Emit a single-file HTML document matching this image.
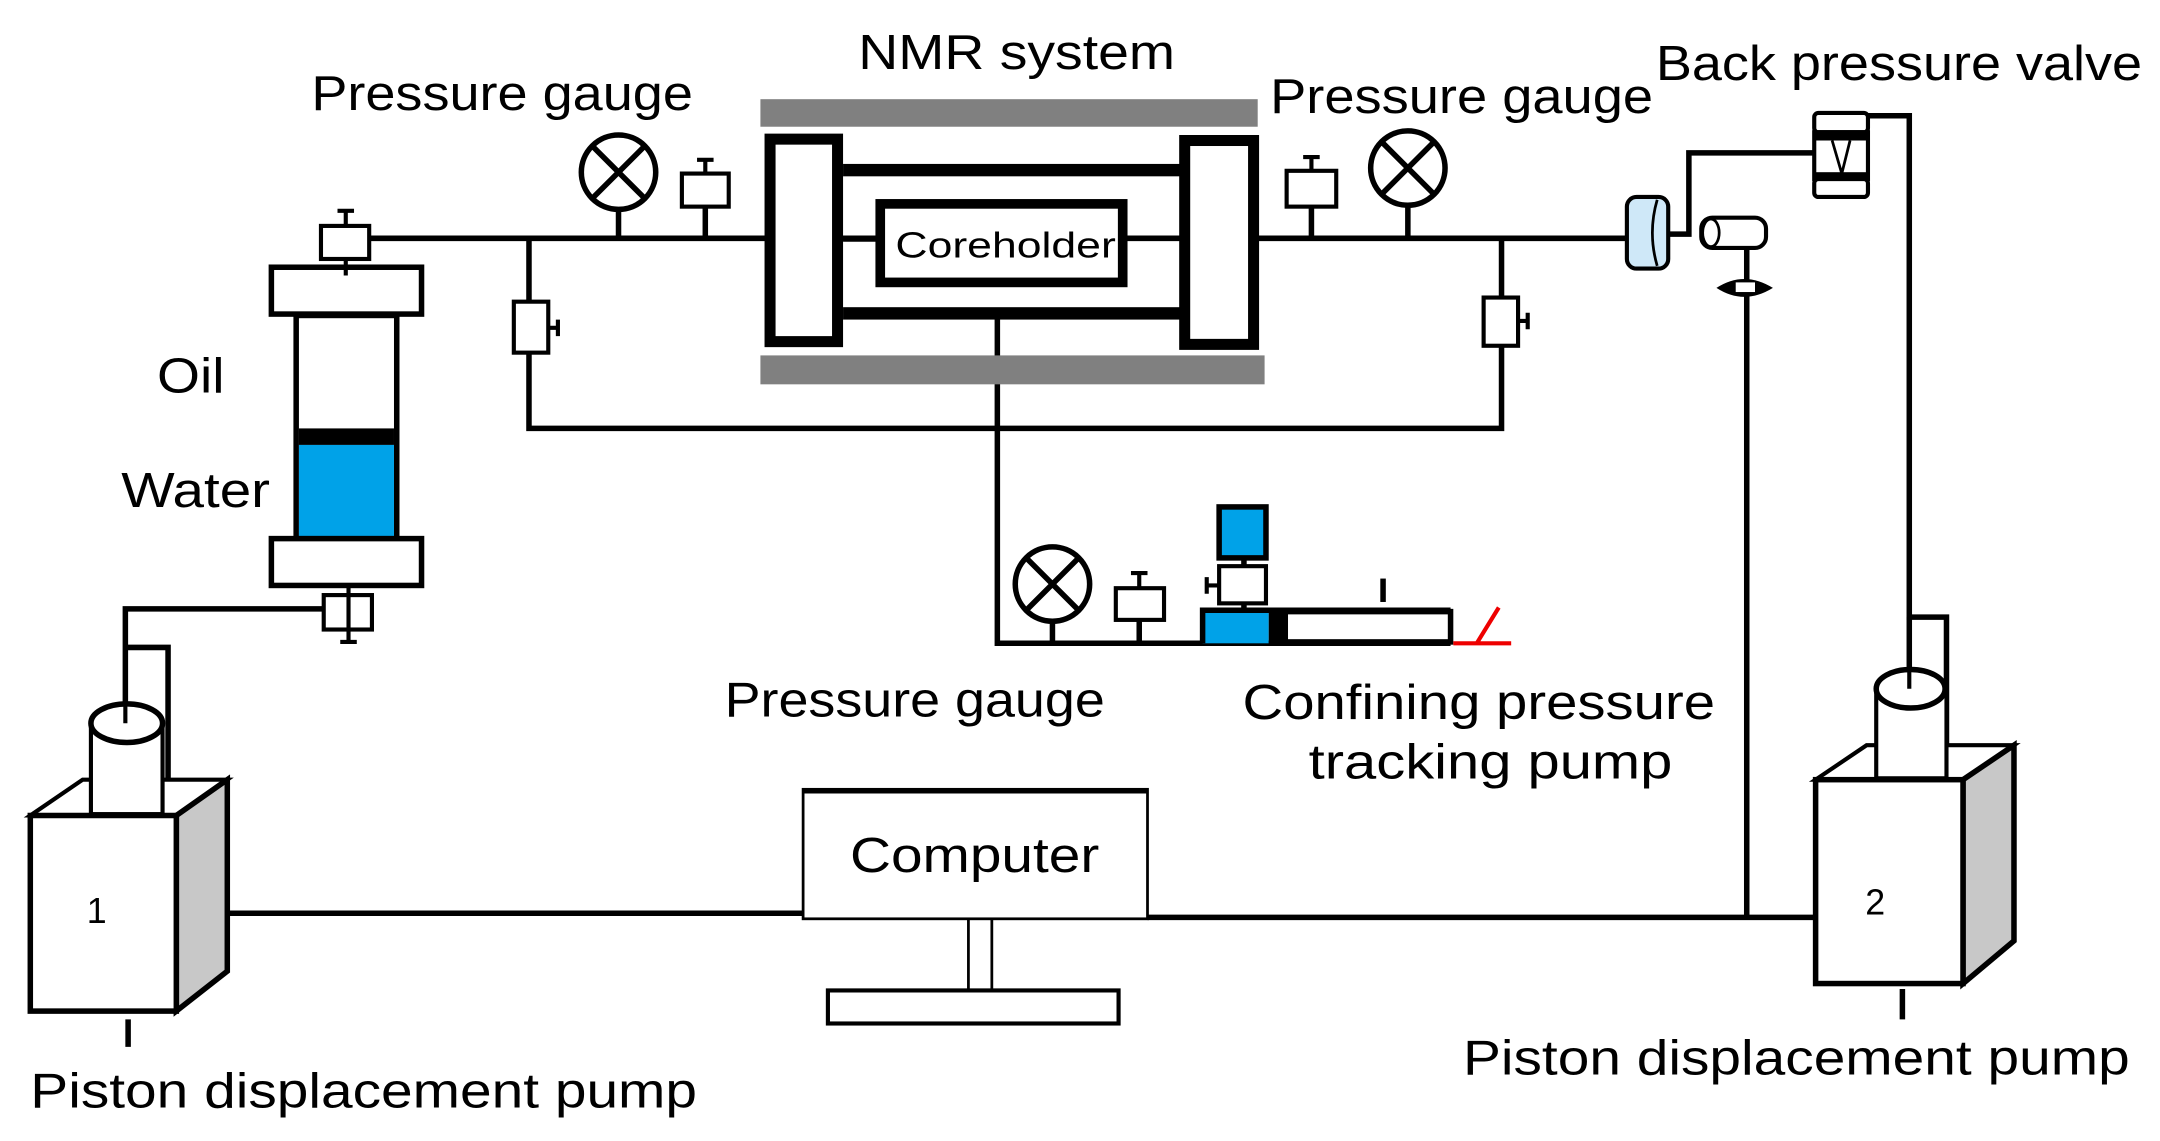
<!DOCTYPE html>
<html><head><meta charset="utf-8"><style>
html,body{margin:0;padding:0;background:#fff}
svg{display:block}
text{font-family:"Liberation Sans",sans-serif;fill:#000}
</style></head><body>
<svg width="2160" height="1141" viewBox="0 0 1568 828.3" preserveAspectRatio="none" xmlns="http://www.w3.org/2000/svg">
<g fill="none" stroke="#000" stroke-width="4">
<!-- main top line -->
<path d="M268 173 H1180"/>
<path d="M384 173 V311 H1090 V173"/>
<path d="M449 152 V173 M512 150 V173 M952 150 V173 M1022 149 V173"/>
<!-- to back pressure valve -->
<path d="M1212 170 H1226 V111 H1318"/>
<path d="M1356 84 H1386 V448 H1413 V566"/>
<path d="M1386 448 V490"/>
<path d="M1268 180 V666"/>
<!-- vertical to confining pump -->
<path d="M724 230 V467 H1053"/>
<path d="M764 451 V467 M827 450 V467 M903 438 V443 M903 405 V412"/>
<!-- bottom left connection -->
<path d="M235 442 H91 V520"/>
<path d="M92 470 H122 V590"/>
<!-- computer lines -->
<path d="M165 663 H583 M833 666 H1318"/>
<path d="M93 740 V760 M1381 718 V740"/>
<path d="M1004 420 V437"/>
</g>
<!-- left cylinder -->
<g stroke="#000" stroke-width="4">
<rect x="215" y="229" width="73" height="162" fill="#fff"/>
<rect x="217" y="311" width="69" height="12" fill="#000" stroke="none"/>
<rect x="217" y="323" width="69" height="67" fill="#00a2e8" stroke="none"/>
<rect x="197" y="194" width="109" height="34" fill="#fff"/>
<rect x="197" y="391" width="109" height="34" fill="#fff"/>
<rect x="233" y="164" width="35" height="24" fill="#fff" stroke-width="3"/>
<rect x="235" y="432" width="35" height="25" fill="#fff" stroke-width="3"/>
</g>
<path d="M251 152V164M245 153H257M251 188V200M253 425V467M247 466H259" stroke="#000" stroke-width="3"/>
<!-- valves on branches -->
<g fill="#fff" stroke="#000" stroke-width="3">
<rect x="373" y="219" width="25" height="37"/>
<rect x="1077" y="216" width="25" height="35"/>
<rect x="495" y="126" width="34" height="24"/>
<rect x="934" y="124" width="36" height="26"/>
<rect x="810" y="427" width="35" height="23"/>
<rect x="885" y="411" width="34" height="27"/>
</g>
<path d="M398 238H405M405 232V244M1102 233H1109M1109 227V239M512 126V116M506 116H518M952 124V114M946 114H958M827 427V416M821 416H833M885 425H876M876 419V431" stroke="#000" stroke-width="3"/>
<rect x="885" y="368" width="34" height="37" fill="#00a2e8" stroke="#000" stroke-width="4"/>
<!-- gauges -->
<g fill="#fff" stroke="#000" stroke-width="4">
<ellipse cx="449" cy="125" rx="27" ry="27"/>
<ellipse cx="1022" cy="122" rx="27" ry="27"/>
<ellipse cx="764" cy="424" rx="27" ry="27"/>
</g>
<path d="M430 106L468 144M468 106L430 144M1003 103L1041 141M1041 103L1003 141M745 405L783 443M783 405L745 443" stroke="#000" stroke-width="4"/>
<!-- NMR -->
<rect x="552" y="72" width="361" height="20" fill="#808080"/>
<rect x="552" y="258" width="366" height="21" fill="#808080"/>
<rect x="612" y="119" width="246" height="9" fill="#000"/>
<rect x="612" y="223" width="246" height="9" fill="#000"/>
<rect x="559" y="101" width="49" height="147" fill="#fff" stroke="#000" stroke-width="8"/>
<rect x="860" y="102" width="50" height="148" fill="#fff" stroke="#000" stroke-width="8"/>
<rect x="639" y="148" width="176" height="57" fill="#fff" stroke="#000" stroke-width="7"/>
<path d="M612 174H636" stroke="#000" stroke-width="3"/>
<!-- back pressure valve -->
<g stroke="#000" stroke-width="3" fill="#fff">
<rect x="1317" y="82" width="39" height="14" rx="3"/>
<rect x="1317" y="96" width="39" height="34"/>
<rect x="1317" y="130" width="39" height="13" rx="3"/>
</g>
<rect x="1317" y="96" width="39" height="6" fill="#000"/>
<rect x="1317" y="125" width="39" height="5" fill="#000"/>
<path d="M1330 102L1337 126L1343 102" stroke="#000" stroke-width="2" fill="none"/>
<!-- blue disc -->
<rect x="1181" y="143" width="30" height="52" rx="7" fill="#cfe8f8" stroke="#000" stroke-width="3"/>
<path d="M1203 145Q1196 169 1203 193" stroke="#000" stroke-width="2" fill="none"/>
<!-- small cylinder + check -->
<rect x="1235" y="158" width="47" height="22" rx="8" fill="#fff" stroke="#000" stroke-width="3"/>
<ellipse cx="1242" cy="169" rx="6" ry="10" fill="none" stroke="#000" stroke-width="2"/>
<path d="M1246 209Q1266 196 1287 209Q1266 222 1246 209Z" fill="#000"/>
<rect x="1260" y="205" width="14" height="7" fill="#fff"/>
<!-- confining pump -->
<rect x="873" y="443" width="48" height="24" fill="#00a2e8"/>
<rect x="921" y="443" width="12" height="24" fill="#000"/>
<rect x="933" y="444" width="120" height="22" fill="#fff" stroke="#000" stroke-width="4"/>
<path d="M873 467H873V443H1053" stroke="#000" stroke-width="4" fill="none"/>
<path d="M1055 467H1097M1072 467L1088 441" stroke="#e00" stroke-width="3"/>
<!-- pumps -->
<g stroke="#000" stroke-width="4">
<polygon points="22,592 128,592 165,566 60,566" fill="#fff" stroke-width="3"/>
<polygon points="128,592 165,566 165,705 128,734" fill="#c8c8c8"/>
<rect x="22" y="592" width="106" height="142" fill="#fff"/>
<rect x="66" y="525" width="52" height="66" fill="#fff" stroke-width="3"/>
<ellipse cx="92" cy="525" rx="26" ry="14" fill="#fff"/>
<polygon points="1318,566 1425,566 1462,541 1355,541" fill="#fff" stroke-width="3"/>
<polygon points="1425,566 1462,541 1462,683 1425,714" fill="#c8c8c8"/>
<rect x="1318" y="566" width="107" height="148" fill="#fff"/>
<rect x="1362" y="500" width="51" height="65" fill="#fff" stroke-width="3"/>
<ellipse cx="1387" cy="500" rx="25" ry="14" fill="#fff"/>
</g>
<path d="M91 442V525M1386 448V500" stroke="#000" stroke-width="3"/>
<!-- computer -->
<rect x="583" y="573" width="250" height="94" fill="#fff" stroke="#000" stroke-width="2"/>
<path d="M583 574H833" stroke="#000" stroke-width="4"/>
<path d="M703 667V720M720 667V720" stroke="#000" stroke-width="2"/>
<rect x="601" y="719" width="211" height="24" fill="#fff" stroke="#000" stroke-width="3"/>
<!-- text -->
<text x="623" y="50" font-size="36" textLength="230" lengthAdjust="spacingAndGlyphs">NMR system</text>
<text x="226" y="80" font-size="36" textLength="277" lengthAdjust="spacingAndGlyphs">Pressure gauge</text>
<text x="922" y="82" font-size="36" textLength="278" lengthAdjust="spacingAndGlyphs">Pressure gauge</text>
<text x="1202" y="58" font-size="36" textLength="353" lengthAdjust="spacingAndGlyphs">Back pressure valve</text>
<text x="650" y="187" font-size="26" textLength="160" lengthAdjust="spacingAndGlyphs">Coreholder</text>
<text x="114" y="285" font-size="36" textLength="49" lengthAdjust="spacingAndGlyphs">Oil</text>
<text x="88" y="368" font-size="36" textLength="108" lengthAdjust="spacingAndGlyphs">Water</text>
<text x="526" y="520" font-size="36" textLength="276" lengthAdjust="spacingAndGlyphs">Pressure gauge</text>
<text x="902" y="522" font-size="36" textLength="343" lengthAdjust="spacingAndGlyphs">Confining pressure</text>
<text x="950" y="565" font-size="36" textLength="264" lengthAdjust="spacingAndGlyphs">tracking pump</text>
<text x="617" y="633" font-size="36" textLength="181" lengthAdjust="spacingAndGlyphs">Computer</text>
<text x="22" y="804" font-size="36" textLength="484" lengthAdjust="spacingAndGlyphs">Piston displacement pump</text>
<text x="1062" y="780" font-size="36" textLength="484" lengthAdjust="spacingAndGlyphs">Piston displacement pump</text>
<text x="63" y="670" font-size="26">1</text>
<text x="1354" y="664" font-size="26">2</text>
</svg>
</body></html>
